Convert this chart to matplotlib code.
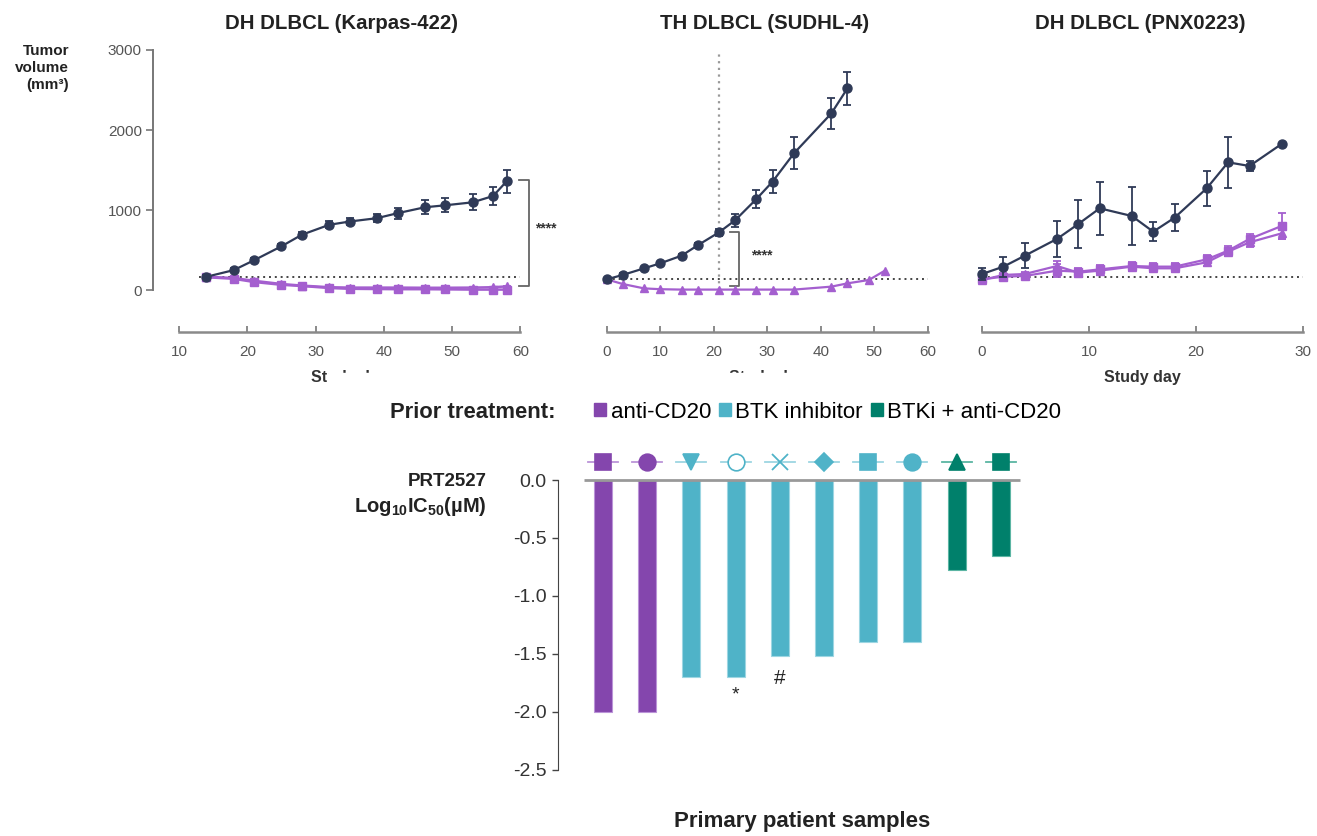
import matplotlib.pyplot as plt
from matplotlib.patches import Patch, Rectangle

plt.rcParams['font.family'] = ['Liberation Sans', 'DejaVu Sans']
plt.rcParams['mathtext.fontset'] = 'custom'
plt.rcParams['mathtext.rm'] = 'Liberation Sans:bold'
plt.rcParams['mathtext.bf'] = 'Liberation Sans:bold'
plt.rcParams['mathtext.default'] = 'bf'

W, H = 1317, 836
NAVY = '#2f3a57'
LAV = '#a45fcf'
GREY = '#8a8a8a'

# ---- tumour growth data (mm3) ----
k_days = [14, 18, 21, 25, 28, 32, 35, 39, 42, 46, 49, 53, 56, 58]
k_vehicle = [165, 248, 372, 546, 691, 815, 856, 898, 960, 1034, 1059, 1096, 1175, 1361]
k_vehicle_err = [20, 25, 25, 30, 35, 45, 45, 50, 70, 90, 85, 100, 110, 145]
k_sq = [160, 140, 100, 65, 50, 25, 15, 12, 10, 10, 8, 5, 5, 5]
k_tri = [165, 150, 115, 75, 55, 35, 30, 30, 30, 28, 28, 30, 35, 45]
k_trt_err = [15, 15, 15, 12, 10, 10, 8, 8, 8, 8, 8, 8, 8, 10]

s_days = [0, 3, 7, 10, 14, 17, 21, 24, 28, 31, 35, 42, 45]
s_vehicle = [133, 188, 271, 333, 429, 558, 721, 871, 1138, 1354, 1708, 2208, 2521]
s_vehicle_err = [15, 20, 20, 20, 25, 30, 40, 85, 110, 145, 200, 195, 210]
s_trt_days = [0, 3, 7, 10, 14, 17, 21, 24, 28, 31, 35, 42, 45, 49, 52]
s_tri = [133, 75, 20, 10, 5, 5, 5, 5, 5, 5, 5, 42, 83, 125, 242]

p_days = [0, 2, 4, 7, 9, 11, 14, 16, 18, 21, 23, 25, 28]
p_vehicle = [200, 292, 429, 638, 825, 1021, 925, 729, 904, 1271, 1596, 1550, 1825]
p_vehicle_err = [80, 125, 160, 230, 300, 330, 365, 115, 165, 215, 320, 60, 15]
p_sq = [133, 167, 175, 242, 229, 258, 300, 292, 292, 383, 492, 638, 800]
p_sq_err = [30, 30, 30, 80, 50, 60, 50, 45, 40, 50, 60, 60, 160]
p_tri = [125, 188, 200, 300, 217, 242, 292, 271, 271, 346, 479, 596, 708]
p_tri_err = [30, 30, 30, 60, 50, 50, 50, 45, 40, 50, 50, 60, 70]

baseline = [160, 142, 158]

# ---- primary samples ----
ic50 = [-2.0, -2.0, -1.70, -1.70, -1.52, -1.52, -1.40, -1.40, -0.776, -0.659]
groups = ['anti-CD20'] * 2 + ['BTK inhibitor'] * 6 + ['BTKi + anti-CD20'] * 2
sample_markers = ['s', 'o', 'v', 'o', 'x', 'D', 's', 'o', '^', 's']
sample_filled = [True, True, True, False, True, True, True, True, True, True]
notes = ['', '', '', '*', '#', '', '', '', '', '']
yticks_low = [0.0, -0.5, -1.0, -1.5, -2.0, -2.5]
ytick_labels_low = ['0.0', '-0.5', '-1.0', '-1.5', '-2.0', '-2.5']

group_color = {'anti-CD20': '#8446ad', 'BTK inhibitor': '#4fb3c8', 'BTKi + anti-CD20': '#00806b'}
group_light = {'anti-CD20': '#bb94d8', 'BTK inhibitor': '#9dd6e2', 'BTKi + anti-CD20': '#5bb5a3'}

fig = plt.figure(figsize=(W / 100, H / 100), dpi=100)


def px_axes(l, t, r, b):
    return fig.add_axes([l / W, 1 - b / H, (r - l) / W, (b - t) / H])


def style_top(ax, xlim, bounds, ticks, title, show_y):
    ax.set_xlim(*xlim)
    ax.set_ylim(0, 3000)
    for s in ['top', 'right']:
        ax.spines[s].set_visible(False)
    ax.spines['bottom'].set_position(('outward', 42 * 0.72))
    ax.spines['bottom'].set_bounds(*bounds)
    ax.spines['bottom'].set_color(GREY)
    ax.spines['bottom'].set_linewidth(1.8)
    ax.set_xticks(ticks)
    ax.tick_params(axis='x', direction='in', length=4, width=1.2, color='#777',
                   labelsize=11, labelcolor='#555', pad=9)
    if show_y:
        ax.spines['left'].set_bounds(0, 3000)
        ax.spines['left'].set_color('#777')
        ax.spines['left'].set_linewidth(1.4)
        ax.set_yticks([0, 1000, 2000, 3000])
        ax.tick_params(axis='y', direction='out', length=5, width=1.2, color='#777',
                       labelsize=11, labelcolor='#555', pad=3)
    else:
        ax.spines['left'].set_visible(False)
        ax.set_yticks([])
    ax.set_title(title, fontsize=14.7, fontweight='bold', color='#222', pad=15)
    ax.set_xlabel('Study day', fontsize=11.5, fontweight='bold', color='#333')
    xc = ((bounds[0] + bounds[1]) / 2 - xlim[0]) / (xlim[1] - xlim[0])
    ax.xaxis.set_label_coords(xc, -0.335)


def bracket(ax, x, lo, hi, tick):
    ax.plot([x - tick, x, x, x - tick], [hi, hi, lo, lo], color='#666', lw=1.3, clip_on=False)


dot = (0, (1, 2))
ebkw = dict(capsize=3, elinewidth=1.3, capthick=1.3, clip_on=False)

# panel 1
ax1 = px_axes(153, 50, 530.7, 290)
style_top(ax1, (6.2, 61.5), (10, 60), range(10, 61, 10), 'DH DLBCL (Karpas-422)', True)
ax1.hlines(baseline[0], 13, 60, colors='#444', linestyles=dot, lw=1.4)
ax1.errorbar(k_days, k_tri, yerr=k_trt_err, fmt='-^', color=LAV, ms=5.5, lw=1.8, zorder=3, **ebkw)
ax1.errorbar(k_days, k_sq, yerr=k_trt_err, fmt='-s', color=LAV, ms=5.5, lw=1.8, zorder=3, **ebkw)
ax1.errorbar(k_days, k_vehicle, yerr=k_vehicle_err, fmt='-o', color=NAVY, ms=6.5, lw=1.6, zorder=4, **ebkw)
bracket(ax1, 61.2, 50, 1375, 1.4)
ax1.text(62.2, 775, '****', fontsize=10, fontweight='bold', color='#333', va='center', ha='left')

# panel 2
ax2 = px_axes(590.6, 50, 938.4, 290)
style_top(ax2, (-3, 62), (0, 60), range(0, 61, 10), 'TH DLBCL (SUDHL-4)', False)
ax2.hlines(baseline[1], 0, 60, colors='#444', linestyles=dot, lw=1.4)
ax2.vlines(21, 0, 3000, colors='#999', linestyles=dot, lw=1.6)
ax2.errorbar(s_trt_days, s_tri, fmt='-^', color=LAV, ms=5.5, lw=1.6, zorder=3, clip_on=False)
ax2.errorbar(s_days, s_vehicle, yerr=s_vehicle_err, fmt='-o', color=NAVY, ms=6.5, lw=1.6, zorder=4, **ebkw)
bracket(ax2, 24.8, 50, 721, 1.7)
ax2.text(27.0, 437, '****', fontsize=10, fontweight='bold', color='#333', va='center', ha='left')

# panel 3
ax3 = px_axes(966, 50, 1313.7, 290)
style_top(ax3, (-1.5, 31), (0, 30), range(0, 31, 10), 'DH DLBCL (PNX0223)', False)
ax3.hlines(baseline[2], 0, 30, colors='#444', linestyles=dot, lw=1.4)
ax3.errorbar(p_days, p_tri, yerr=p_tri_err, fmt='-^', color=LAV, ms=5.5, lw=1.6, zorder=3, **ebkw)
ax3.errorbar(p_days, p_sq, yerr=p_sq_err, fmt='-s', color=LAV, ms=5.5, lw=1.6, zorder=3, **ebkw)
ax3.errorbar(p_days, p_vehicle, yerr=p_vehicle_err, fmt='-o', color=NAVY, ms=6.5, lw=1.6, zorder=4, **ebkw)

fig.text(69 / W, 1 - 68 / H, 'Tumor\nvolume\n(mm³)', ha='right', va='center',
         multialignment='right', linespacing=1.3, fontsize=11, fontweight='bold', color='#222')

# cover clipped axis titles as in the source figure
fig.add_artist(Rectangle((328 / W, 1 - 396 / H), (940 - 328) / W, (396 - 373) / H,
                         transform=fig.transFigure, color='white', zorder=10))

# ---- lower panel ----
axb = px_axes(557.9, 456.8, 1022.9, 770)
x = list(range(len(ic50)))
cols = [group_color[g] for g in groups]
lights = [group_light[g] for g in groups]
axb.bar(x, ic50, width=0.41, color=cols, edgecolor=lights, linewidth=0.8, zorder=2)
axb.set_xlim(-1.02, 9.5)
axb.set_ylim(-2.5, 0.2)
axb.hlines(0, -0.42, 9.43, colors='#999', lw=2, zorder=3)
mark_y = 0.155
for i in x:
    axb.plot([i - 0.34, i + 0.34], [mark_y, mark_y], color=lights[i], lw=1.3, clip_on=False, zorder=3)
    m = sample_markers[i]
    ms = 11 if m in ('s', 'D') else 12
    if m == 'D':
        ms = 9
    if m == 'x':
        axb.plot(i, mark_y, marker='x', ms=12, mew=1.3, color=cols[i], clip_on=False, zorder=4)
    else:
        axb.plot(i, mark_y, marker=m, ms=ms, color=cols[i],
                 mfc=cols[i] if sample_filled[i] else 'white', mew=1.2, clip_on=False, zorder=4)
    if notes[i] == '*':
        axb.text(i, ic50[i] - 0.08, '*', ha='center', va='top', fontsize=14, color='#222')
    elif notes[i] == '#':
        axb.text(i, ic50[i] - 0.11, '#', ha='center', va='top', fontsize=15, color='#222')

for s in ['top', 'right', 'bottom']:
    axb.spines[s].set_visible(False)
axb.spines['left'].set_bounds(-2.5, 0)
axb.spines['left'].set_color('#444')
axb.set_xticks([])
axb.set_yticks(yticks_low)
axb.set_yticklabels(ytick_labels_low)
axb.tick_params(axis='y', direction='out', length=4, width=1, color='#444',
                labelsize=14, labelcolor='#333', pad=4)

fig.text(487 / W, 1 - 481 / H, 'PRT2527', ha='right', va='center',
         fontsize=13.5, fontweight='bold', color='#222')
fig.text(487 / W, 1 - 507 / H, r'Log$_{10}$IC$_{50}$(µM)', ha='right', va='center',
         fontsize=14.5, fontweight='bold', color='#222')
fig.text(802 / W, 1 - 822 / H, 'Primary patient samples', ha='center', va='center',
         fontsize=16, fontweight='bold', color='#222')

fig.text(556 / W, 1 - 412 / H, 'Prior treatment:', ha='right', va='center',
         fontsize=15.8, fontweight='bold', color='#222')
handles = [Patch(color=group_color[g]) for g in group_color]
fig.legend(handles, list(group_color), loc='center left', bbox_to_anchor=(594 / W, 1 - 412 / H),
           ncol=3, frameon=False, fontsize=16, handlelength=0.55, handleheight=0.55,
           handletextpad=0.2, columnspacing=0.35, borderpad=0, borderaxespad=0)

fig.savefig('out.png', dpi=100)
